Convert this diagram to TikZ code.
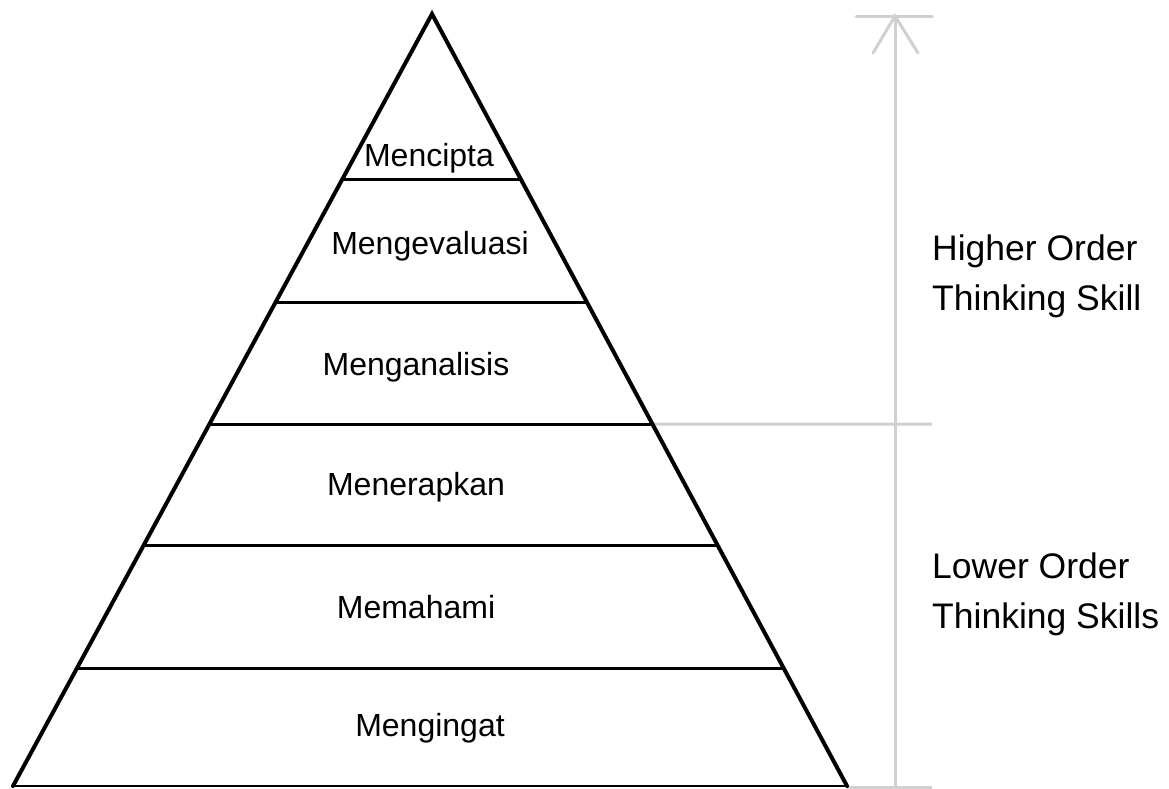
\documentclass[tikz,border=0pt]{standalone}
\usepackage{fontspec}
\setmainfont{Liberation Sans}
\usetikzlibrary{calc}
\definecolor{guide}{RGB}{208,208,208}
\definecolor{baseline}{RGB}{70,70,70}
\tikzset{
  pyr/.style={line width=4pt, line join=miter, line cap=round},
  divider/.style={line width=3pt},
  guideline/.style={guide, line width=3pt},
  level/.style={anchor=base, inner sep=0pt, font=\fontsize{32}{38}\selectfont},
  band/.style={anchor=base west, inner sep=0pt, align=left, font=\fontsize{35.5}{50}\selectfont}
}
\begin{document}
\begin{tikzpicture}[x=1pt,y=-1pt]
\useasboundingbox (0,0) rectangle (1169,788);

% pyramid corners
\coordinate (apex) at (432,14);
\coordinate (bl) at (13,786);
\coordinate (br) at (847,786);

% dividers between levels
\foreach \t [count=\i] in {0.2150,0.3731,0.5311,0.6891,0.8472}{
  \coordinate (L\i) at ($(apex)!\t!(bl)$);
  \coordinate (R\i) at ($(apex)!\t!(br)$);
}

% right-hand guide: arrow and split lines
\coordinate (axtop) at (895,16);
\coordinate (axbot) at (895,790);
\coordinate (capl) at (856,16);
\coordinate (capr) at (932,16);
\coordinate (headl) at (873,53);
\coordinate (headr) at (918,53);
\coordinate (midend) at (932,424);
\coordinate (botend) at (932,787);
\coordinate (botstart) at (847,787);

\draw[guideline] (axbot) -- (axtop);
\draw[guideline, line cap=round] (capl) -- (capr);
\draw[guideline, line cap=round] (headl) -- (axtop) -- (headr);
\draw[guideline] (R3) -- (midend);
\draw[guideline] (botstart) -- (botend);

\foreach \i in {1,...,5}{
  \draw[divider] (L\i) -- (R\i);
}

% base and sides
\draw[baseline, line width=2.5pt] (bl) -- (br);
\draw[pyr] (bl) -- (apex) -- (br);

% level labels
\node[level] (cre) at (429,166) {Mencipta};
\node[level] (eva) at (430,254) {Mengevaluasi};
\node[level] (ana) at (416,375) {Menganalisis};
\node[level] (app) at (416,495) {Menerapkan};
\node[level] (und) at (416,618) {Memahami};
\node[level] (rem) at (430,736) {Mengingat};

% band labels (base anchor sits on the second line)
\node[band] (hots) at (932,310) {Higher Order\\Thinking Skill};
\node[band] (lots) at (932,628) {Lower Order\\Thinking Skills};
\end{tikzpicture}
\end{document}
